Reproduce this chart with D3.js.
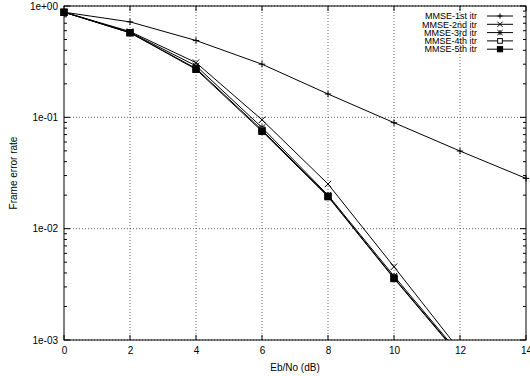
<html>
<head>
<script src="https://d3js.org/d3.v7.min.js"></script>
<style>
  body { margin: 0; background: #fff; }
  text { font-family: "Liberation Sans", Arial, Helvetica, sans-serif; fill: #000; }
</style>
</head>
<body>
<div id="chart"></div>
<script>
// Eb/No points (dB)
const ebno = [0, 2, 4, 6, 8, 10, 12, 14];

// frame error rate per iteration
const fer1 = [0.88, 0.72, 0.49, 0.30, 0.162, 0.0895, 0.0498, 0.0283];
const fer2 = [0.88, 0.59, 0.31, 0.095, 0.0252, 0.00455, 0.00080];
const fer3 = [0.88, 0.58, 0.29, 0.081, 0.0200, 0.00375, 0.00074];
const fer4 = [0.88, 0.575, 0.275, 0.077, 0.0196, 0.00362, 0.00072];
const fer5 = [0.88, 0.575, 0.27, 0.075, 0.0194, 0.00357, 0.00071];

const seriesNames = ["MMSE-1st itr", "MMSE-2nd itr", "MMSE-3rd itr", "MMSE-4th itr", "MMSE-5th itr"];
const markerTypes = ["plus", "cross", "star", "box", "fbox"];

const xTicks = [0, 2, 4, 6, 8, 10, 12, 14];
const yTicks = [1, 0.1, 0.01, 0.001];
const yTickLabels = ["1e+00", "1e-01", "1e-02", "1e-03"];

const width = 530, height = 376;
const margin = {top: 6, right: 4, bottom: 36, left: 64};

let svg = d3.select("#chart").append("svg")
    .attr("width", width)
    .attr("height", height);

let xScale = d3.scaleLinear().domain([0, 14]).range([margin.left, width - margin.right]);
let yScale = d3.scaleLog().domain([1e-3, 1]).range([height - margin.bottom, margin.top]);

const x0 = xScale.range()[0], x1 = xScale.range()[1];
const y0 = yScale.range()[0], y1 = yScale.range()[1];

svg.append("clipPath").attr("id", "plotClip")
  .append("rect")
    .attr("x", x0).attr("y", y1)
    .attr("width", x1 - x0).attr("height", y0 - y1);

// grid lines (dotted)
let grid = svg.append("g").attr("class", "grid");
xTicks.slice(1, -1).forEach(t => {
    grid.append("line")
        .attr("x1", xScale(t)).attr("x2", xScale(t))
        .attr("y1", y0).attr("y2", y1)
        .attr("stroke", "#444").attr("stroke-width", 0.8)
        .attr("stroke-dasharray", "1,2");
});
yTicks.forEach(t => {
    grid.append("line")
        .attr("x1", x0).attr("x2", x1)
        .attr("y1", yScale(t)).attr("y2", yScale(t))
        .attr("stroke", "#444").attr("stroke-width", 0.8)
        .attr("stroke-dasharray", "1,2");
});

// axes: ticks on all four sides like gnuplot
let leftAxis = d3.axisLeft(yScale).tickValues(yTicks).tickFormat((d, i) => yTickLabels[i]).tickSize(0).tickPadding(6);
svg.append("g").attr("class", "y axis")
    .attr("transform", "translate(" + x0 + ",0)")
    .call(leftAxis)
    .call(g => g.select(".domain").remove())
    .selectAll("text").attr("font-size", 10);

let bottomAxis = d3.axisBottom(xScale).tickValues(xTicks).tickSize(0).tickPadding(7);
svg.append("g").attr("class", "x axis")
    .attr("transform", "translate(0," + y0 + ")")
    .call(bottomAxis)
    .call(g => g.select(".domain").remove())
    .selectAll("text").attr("font-size", 10);

let ticks = svg.append("g").attr("stroke", "#000").attr("stroke-width", 1);
xTicks.forEach(t => {
    ticks.append("line").attr("x1", xScale(t)).attr("x2", xScale(t)).attr("y1", y0).attr("y2", y0 - 5);
    ticks.append("line").attr("x1", xScale(t)).attr("x2", xScale(t)).attr("y1", y1).attr("y2", y1 + 5);
});
// log minor ticks
for (let dec = 0.001; dec < 1; dec *= 10) {
    for (let m = 1; m < 10; m++) {
        let v = dec * m;
        let len = m === 1 ? 6 : 3;
        ticks.append("line").attr("x1", x0).attr("x2", x0 + len).attr("y1", yScale(v)).attr("y2", yScale(v));
        ticks.append("line").attr("x1", x1).attr("x2", x1 - len).attr("y1", yScale(v)).attr("y2", yScale(v));
    }
}
ticks.append("line").attr("x1", x0).attr("x2", x0 + 6).attr("y1", yScale(1)).attr("y2", yScale(1));
ticks.append("line").attr("x1", x1).attr("x2", x1 - 6).attr("y1", yScale(1)).attr("y2", yScale(1));

// border
svg.append("rect")
    .attr("x", x0).attr("y", y1)
    .attr("width", x1 - x0).attr("height", y0 - y1)
    .attr("fill", "none").attr("stroke", "#000").attr("stroke-width", 1);

// axis titles
svg.append("text")
    .attr("x", (x0 + x1) / 2).attr("y", 371)
    .attr("text-anchor", "middle").attr("font-size", 10)
    .text("Eb/No (dB)");
svg.append("text")
    .attr("transform", "translate(17," + ((y0 + y1) / 2) + ") rotate(-90)")
    .attr("text-anchor", "middle").attr("font-size", 10)
    .text("Frame error rate");

// marker drawing
function drawMarker(g, type, cx, cy, s) {
    if (type === "plus" || type === "star") {
        g.append("line").attr("x1", cx - s).attr("x2", cx + s).attr("y1", cy).attr("y2", cy);
        g.append("line").attr("x1", cx).attr("x2", cx).attr("y1", cy - s).attr("y2", cy + s);
    }
    if (type === "cross" || type === "star") {
        g.append("line").attr("x1", cx - s).attr("x2", cx + s).attr("y1", cy - s).attr("y2", cy + s);
        g.append("line").attr("x1", cx - s).attr("x2", cx + s).attr("y1", cy + s).attr("y2", cy - s);
    }
    if (type === "box") {
        g.append("rect").attr("x", cx - s * 0.9).attr("y", cy - s * 0.9).attr("width", s * 1.8).attr("height", s * 1.8)
            .attr("fill", "#fff");
    }
    if (type === "fbox") {
        g.append("rect").attr("x", cx - s).attr("y", cy - s).attr("width", s * 2).attr("height", s * 2)
            .attr("fill", "#000");
    }
}

const allSeries = [fer1, fer2, fer3, fer4, fer5];
let lineGen = d3.line()
    .x(d => xScale(d[0]))
    .y(d => yScale(d[1]));

let plot = svg.append("g");
allSeries.forEach((vals, i) => {
    let pts = vals.map((v, j) => [ebno[j], v]);
    plot.append("path")
        .datum(pts)
        .attr("clip-path", "url(#plotClip)")
        .attr("fill", "none")
        .attr("stroke", "#000")
        .attr("stroke-width", 1)
        .attr("d", lineGen);
    let mg = plot.append("g").attr("stroke", "#000").attr("stroke-width", 1);
    pts.filter(p => p[1] >= 1e-3).forEach(p => drawMarker(mg, markerTypes[i], xScale(p[0]), yScale(p[1]), 3.2));
});

// legend
let legend = svg.append("g").attr("class", "legend");
seriesNames.forEach((name, i) => {
    let ly = 16 + i * 8.3;
    legend.append("text")
        .attr("x", 477).attr("y", ly + 3.2)
        .attr("text-anchor", "end").attr("font-size", 9)
        .text(name);
    legend.append("line")
        .attr("x1", 487).attr("x2", 513).attr("y1", ly).attr("y2", ly)
        .attr("stroke", "#000").attr("stroke-width", 1);
    let mg = legend.append("g").attr("stroke", "#000").attr("stroke-width", 1);
    drawMarker(mg, markerTypes[i], 500, ly, 2.6);
});
</script>
</body>
</html>
